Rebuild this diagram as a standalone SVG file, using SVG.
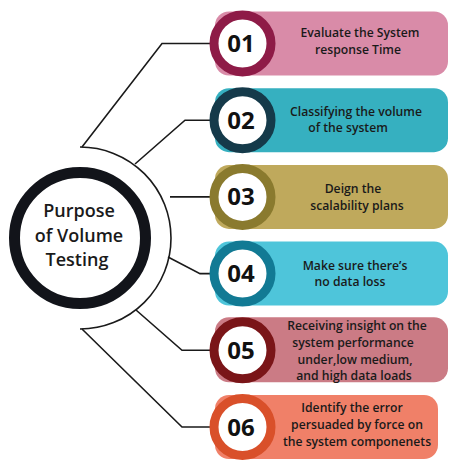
<svg xmlns="http://www.w3.org/2000/svg" width="456" height="468" viewBox="0 0 456 468">
<style>
.ln{fill:none;stroke:#1a1a1a;stroke-width:1.6}
.ring{fill:#fff;stroke-width:9}
.num{font-family:"Open Sans",sans-serif;font-weight:700;font-size:24px;fill:#111;text-anchor:middle}
.t{font-family:"Open Sans",sans-serif;font-weight:600;font-size:12.2px;fill:#1a1a1a;text-anchor:middle}
.ct{font-family:"Open Sans",sans-serif;font-weight:600;font-size:18px;fill:#1a1a1a;text-anchor:middle}
</style>
<rect width="456" height="468" fill="#fff"/>
<g id="connectors">
<path class="ln" d="M80,147 A91,91 0 0 1 80,329"/>
<polyline class="ln" points="82,147 162,43.5 210,43.5"/>
<polyline class="ln" points="135,164 185,120.2 210,120.2"/>
<polyline class="ln" points="170,196.9 210,196.9"/>
<polyline class="ln" points="168,257 200,273.6 210,273.6"/>
<polyline class="ln" points="136,310 182,350.3 210,350.3"/>
<polyline class="ln" points="82,329 182,427 210,427"/>
</g>
<g id="center">
<circle cx="80" cy="238" r="65.5" fill="#fff" stroke="#12141a" stroke-width="11"/>
<text class="ct" x="79" y="217">Purpose</text>
<text class="ct" x="79" y="242">of Volume</text>
<text class="ct" x="77" y="266">Testing</text>
</g>
<g id="n1">
<rect x="215" y="11.5" width="233" height="64" rx="14" fill="#D98BA8"/>
<circle class="ring" cx="242.5" cy="43.5" r="28.5" stroke="#8E1B47"/>
<text class="num" x="241" y="52">01</text>
<text class="t" x="360" y="37">Evaluate the System</text>
<text class="t" x="358" y="54">response Time</text>
</g>
<g id="n2">
<rect x="215" y="88.2" width="233" height="64" rx="14" fill="#36B0C0"/>
<circle class="ring" cx="242.5" cy="120.2" r="28.5" stroke="#153A4A"/>
<text class="num" x="241" y="128.7">02</text>
<text class="t" x="356" y="116">Classifying the volume</text>
<text class="t" x="348" y="132">of the system</text>
</g>
<g id="n3">
<rect x="215" y="164.9" width="233" height="64" rx="14" fill="#BFA95C"/>
<circle class="ring" cx="242.5" cy="196.9" r="28.5" stroke="#8A7A2E"/>
<text class="num" x="241" y="205.4">03</text>
<text class="t" x="353" y="193">Deign the</text>
<text class="t" x="357" y="210">scalability plans</text>
</g>
<g id="n4">
<rect x="215" y="241.6" width="233" height="64" rx="14" fill="#4EC5DA"/>
<circle class="ring" cx="242.5" cy="273.6" r="28.5" stroke="#127A94"/>
<text class="num" x="241" y="282.1">04</text>
<text class="t" x="355" y="270">Make sure there’s</text>
<text class="t" x="350" y="286">no data loss</text>
</g>
<g id="n5">
<rect x="215" y="317.3" width="233" height="65" rx="14" fill="#CB7B85"/>
<circle class="ring" cx="242.5" cy="350.3" r="28.5" stroke="#7A1518"/>
<text class="num" x="241" y="358.8">05</text>
<text class="t" x="357" y="330">Receiving insight on the</text>
<text class="t" x="353" y="347">system performance</text>
<text class="t" x="355" y="364">under,low medium,</text>
<text class="t" x="354" y="380">and high data loads</text>
</g>
<g id="n6">
<rect x="215" y="395" width="223" height="64" rx="14" fill="#F08068"/>
<circle class="ring" cx="242.5" cy="427" r="28.5" stroke="#D9502A"/>
<text class="num" x="241" y="435.5">06</text>
<text class="t" x="352" y="412">Identify the error</text>
<text class="t" x="357" y="429">persuaded by force on</text>
<text class="t" x="357" y="446">the system componenets</text>
</g>
</svg>
